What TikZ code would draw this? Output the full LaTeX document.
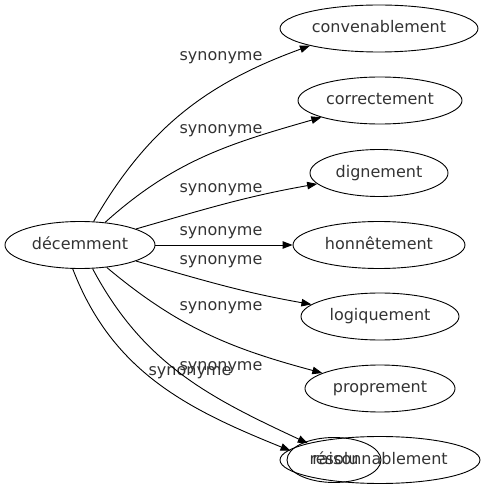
\documentclass[tikz,border=0pt]{standalone}
\usepackage{fontspec}
\setmainfont{DejaVu Sans}
\usetikzlibrary{shapes.geometric, arrows.meta, positioning}

\begin{document}
\begin{tikzpicture}[x=1pt,y=1pt,line width=0.9pt,
	word/.style={ellipse,draw,inner sep=0pt,minimum height=47pt,text height=12pt,text depth=3pt,text=black!80,font=\fontsize{16}{19}\selectfont},
	syn/.style={inner sep=0pt,text=black!80,font=\fontsize{16}{19}\selectfont},
	rel/.style={-{Triangle[length=10pt,width=7.5pt]}}]
\useasboundingbox (0,0) rectangle (485,491);

\node[word,minimum width=150pt](dec) at (80,246) {décemment};
\node[word,minimum width=198pt](conv) at (379,462.5) {convenablement};
\node[word,minimum width=164pt](corr) at (380,390.5) {correctement};
\node[word,minimum width=138pt](dign) at (379,318) {dignement};
\node[word,minimum width=172pt](honn) at (379,246) {honnêtement};
\node[word,minimum width=158pt](logi) at (380,174.5) {logiquement};
\node[word,minimum width=150pt](prop) at (380,102.5) {proprement};
\node[word,minimum width=200pt](rais) at (380,31) {raisonnablement};
\node[word,minimum width=94pt,minimum height=45pt](reso) at (334,31) {résolu};

% synonyme labels
\node[syn](l1) at (221,433) {synonyme};
\node[syn](l2) at (221,360) {synonyme};
\node[syn](l3) at (221,301) {synonyme};
\node[syn](l4) at (221,258) {synonyme};
\node[syn](l5) at (221,229) {synonyme};
\node[syn](l6) at (221,183) {synonyme};
\node[syn](l7) at (221,123) {synonyme};
\node[syn](l8) at (190,118) {synonyme};

\draw	(dec.60) edge[rel, out=60, in=200] (conv.194)
		(dec) edge[rel, out=42, in=196] (corr)
		(dec) edge[rel, out=16, in=190] (dign)
		(dec) edge[rel] (honn)
		(dec) edge[rel, out=-16, in=170] (logi)
		(dec) edge[rel, out=-40, in=165] (prop)
		(dec.-62) edge[rel, out=-62, in=155] (rais.167)
		(dec.-107) edge[rel, out=-69, in=158] (reso.168);

\end{tikzpicture}
\end{document}
